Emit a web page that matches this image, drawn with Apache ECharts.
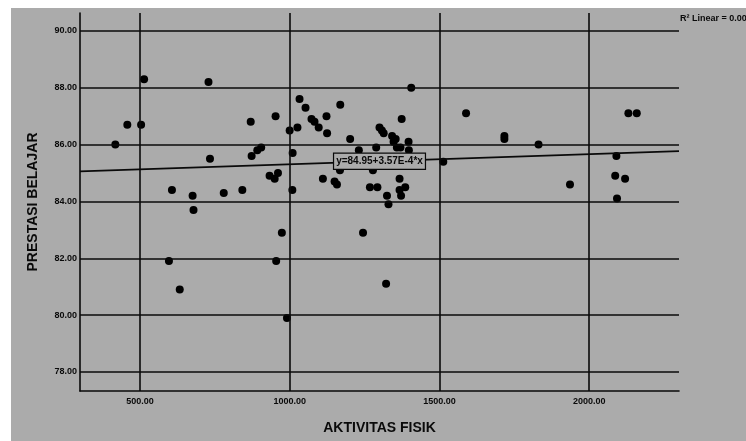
<!DOCTYPE html>
<html><head><meta charset="utf-8">
<script src="https://cdn.jsdelivr.net/npm/echarts@6/dist/echarts.min.js"></script>
<style>
html,body{margin:0;padding:0;background:#fff}
#bg{position:absolute;left:11px;top:8px;width:735px;height:433px;background:#ababab}
#c{position:absolute;left:0;top:0;width:746px;height:441px}
</style>
</head><body><div id="bg"></div><div id="c"></div>
<script>
// Data
const aktivitasFisik = [418,458,504,514,607,597,633,676,679,729,734,780,842,870,873,892,905,933,950,961,953,955,974,991,1000,1009,1010,1026,1033,1053,1073,1083,1097,1111,1123,1125,1150,1158,1169,1168,1202,1231,1245,1268,1293,1278,1289,1300,1308,1314,1322,1325,1330,1342,1354,1347,1358,1370,1367,1367,1372,1386,1374,1397,1398,1406,1513,1589,1717,1717,1831,1936,2087,2091,2093,2120,2131,2159];
const prestasiBelajar = [86.0,86.7,86.7,88.3,84.4,81.9,80.9,84.2,83.7,88.2,85.5,84.3,84.4,86.8,85.6,85.8,85.9,84.9,84.8,85.0,87.0,81.9,82.9,79.9,86.5,84.4,85.7,86.6,87.6,87.3,86.9,86.8,86.6,84.8,87.0,86.4,84.7,84.6,87.4,85.1,86.2,85.8,82.9,84.5,84.5,85.1,85.9,86.6,86.5,86.4,81.1,84.2,83.9,86.3,86.2,86.1,85.9,85.9,84.8,84.4,84.2,84.5,86.9,86.1,85.8,88.0,85.4,87.1,86.3,86.2,86.0,84.6,84.9,85.6,84.1,84.8,87.1,87.1];
const xTicks = [500,1000,1500,2000];
const yTicks = [78,80,82,84,86,88,90];
const xRange = [300,2300];
const yRange = [77.33,90.63];
const fitIntercept = 84.95;
const fitSlope = 3.57e-4;
const equationText = 'y=84.95+3.57E-4*x';
const equationAtX = 1300;
const rSquaredText = 'R² Linear = 0.00';
const xTitle = 'AKTIVITAS FISIK';
const yTitle = 'PRESTASI BELAJAR';

const fit = x => fitIntercept + fitSlope * x;
const points = aktivitasFisik.map((x,i)=>[x, prestasiBelajar[i]]);
const FONT = 'Liberation Sans';
const INK = '#0a0a0a';

const chart = echarts.init(document.getElementById('c'), null, {renderer:'canvas'});
chart.setOption({
  backgroundColor: 'transparent',
  animation: false,
  grid: {left:80, right:67, top:13, bottom:50},
  xAxis: {
    type:'value', min:xRange[0], max:xRange[1],
    name: xTitle, nameLocation:'middle', nameGap:30,
    nameTextStyle:{fontFamily:FONT, fontWeight:'bold', fontSize:14, color:INK},
    axisLine:{show:true, lineStyle:{color:INK, width:1.6}},
    axisTick:{show:false},
    splitLine:{show:false},
    axisLabel:{customValues:xTicks, margin:6, fontFamily:FONT, fontWeight:'bold', fontSize:9, color:INK,
      formatter:v=>Number(v).toFixed(2)}
  },
  yAxis: {
    type:'value', min:yRange[0], max:yRange[1],
    name: yTitle, nameLocation:'middle', nameGap:40, nameRotate:90,
    nameTextStyle:{fontFamily:FONT, fontWeight:'bold', fontSize:14, color:INK},
    axisLine:{show:true, lineStyle:{color:INK, width:1.6}},
    axisTick:{show:false},
    splitLine:{show:false},
    axisLabel:{customValues:yTicks, margin:3, fontFamily:FONT, fontWeight:'bold', fontSize:9, color:INK,
      formatter:v=>Number(v).toFixed(2)}
  },
  graphic: [{
    type:'text', left:680, top:14,
    style:{text:rSquaredText, fontFamily:FONT, fontWeight:'bold', fontSize:9, fill:INK}
  }],
  series: [
    {
      type:'scatter', data:[], silent:true, z:1,
      markLine:{
        silent:true, symbol:'none', animation:false,
        label:{show:false},
        lineStyle:{color:INK, width:1.6, type:'solid'},
        emphasis:{disabled:true},
        data:[...xTicks.map(v=>({xAxis:v})), ...yTicks.map(v=>({yAxis:v}))]
      }
    },
    {
      type:'scatter', data:points, symbol:'circle', symbolSize:8, z:3,
      itemStyle:{color:'#000', opacity:1}
    },
    {
      type:'line', data:[[xRange[0], fit(xRange[0])],[xRange[1], fit(xRange[1])]],
      showSymbol:false, symbol:'none', z:4,
      lineStyle:{color:INK, width:1.6},
      markPoint:{
        symbol:'rect', symbolSize:1, itemStyle:{color:'rgba(0,0,0,0)'},
        label:{show:true, position:'inside', formatter:equationText,
          fontFamily:FONT, fontWeight:'bold', fontSize:10, color:INK,
          backgroundColor:'#ababab', borderColor:INK, borderWidth:1.2, padding:[3,2,2,2]},
        data:[{coord:[equationAtX, fit(equationAtX)]}]
      }
    }
  ]
});
</script>
</body></html>
